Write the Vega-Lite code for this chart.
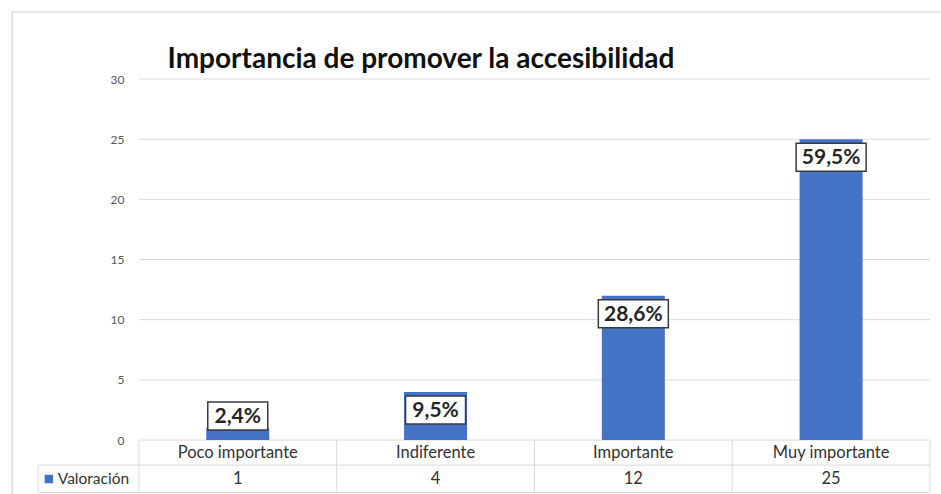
{
  "$schema": "https://vega.github.io/schema/vega-lite/v6.json",
  "width": 902,
  "height": 414,
  "autosize": {"type": "none"},
  "padding": {"left": 33, "top": 79, "right": 6, "bottom": 1},
  "background": "white",
  "config": {"view": {"stroke": null}, "font": "Lato"},
  "datasets": {
    "grid": [{"t": 0}, {"t": 5}, {"t": 10}, {"t": 15}, {"t": 20}, {"t": 25}, {"t": 30}]
  },
  "data": {
    "values": [
      {"categoria": "Poco importante", "valor": 1, "pct": "2,4%"},
      {"categoria": "Indiferente", "valor": 4, "pct": "9,5%"},
      {"categoria": "Importante", "valor": 12, "pct": "28,6%"},
      {"categoria": "Muy importante", "valor": 25, "pct": "59,5%"}
    ]
  },
  "transform": [
    {"window": [{"op": "row_number", "as": "n"}]},
    {"calculate": "datum.n - 0.5", "as": "xc"},
    {"calculate": "max(datum.valor, 3.5) - 1.5", "as": "ylab"}
  ],
  "resolve": {"scale": {"x": "shared", "y": "shared"}},
  "layer": [
    {
      "data": {"values": [{}]},
      "mark": {"type": "rect", "fill": null, "fillOpacity": 0, "stroke": "#dedede", "strokeWidth": 1.5, "clip": false},
      "encoding": {
        "x": {"datum": -0.64, "type": "quantitative", "scale": {"domain": [-0.51, 4], "nice": false, "zero": false}, "axis": null},
        "x2": {"datum": 4.1},
        "y": {"datum": 35.57, "type": "quantitative", "scale": {"domain": [-4.4, 30], "nice": false, "zero": false}},
        "y2": {"datum": -5}
      }
    },
    {
      "data": {"values": [{"titulo": "Importancia de promover la accesibilidad"}]},
      "mark": {"type": "text", "font": "Lato", "fontSize": 28, "fontWeight": "bold", "color": "#111111", "align": "left", "baseline": "middle"},
      "encoding": {
        "x": {"datum": 0.145, "type": "quantitative"},
        "y": {"datum": 31.55, "type": "quantitative"},
        "text": {"field": "titulo"}
      }
    },
    {
      "data": {"name": "grid"},
      "mark": {"type": "rule", "color": "#d9d9d9", "strokeWidth": 1},
      "encoding": {
        "x": {"datum": 0, "type": "quantitative"},
        "x2": {"datum": 4},
        "y": {"field": "t", "type": "quantitative",
          "axis": {"values": [0, 5, 10, 15, 20, 25, 30], "grid": false, "domain": false, "ticks": false, "offset": -102, "labelPadding": 11, "labelFontSize": 12, "labelColor": "#595959", "labelFont": "Lato", "title": null}}
      }
    },
    {
      "data": {"values": [{}]},
      "mark": {"type": "rule", "color": "#d9d9d9", "strokeWidth": 1},
      "encoding": {"x": {"datum": -0.51, "type": "quantitative"}, "x2": {"datum": 4}, "y": {"datum": -2.08, "type": "quantitative"}}
    },
    {
      "data": {"values": [{}]},
      "mark": {"type": "rule", "color": "#d9d9d9", "strokeWidth": 1},
      "encoding": {"x": {"datum": -0.51, "type": "quantitative"}, "x2": {"datum": 4}, "y": {"datum": -4.36, "type": "quantitative"}}
    },
    {
      "data": {"values": [{}]},
      "mark": {"type": "rule", "color": "#d9d9d9", "strokeWidth": 1},
      "encoding": {"x": {"datum": -0.51, "type": "quantitative"}, "y": {"datum": -2.08, "type": "quantitative"}, "y2": {"datum": -4.36}}
    },
    {
      "data": {"values": [{}]},
      "mark": {"type": "rule", "color": "#d9d9d9", "strokeWidth": 1},
      "encoding": {"x": {"datum": 0, "type": "quantitative"}, "y": {"datum": 0, "type": "quantitative"}, "y2": {"datum": -4.36}}
    },
    {
      "mark": {"type": "rule", "color": "#d9d9d9", "strokeWidth": 1},
      "encoding": {"x": {"field": "n", "type": "quantitative"}, "y": {"datum": 0, "type": "quantitative"}, "y2": {"datum": -4.36}}
    },
    {
      "mark": {"type": "bar", "orient": "vertical", "width": 63, "color": "#4472C4"},
      "encoding": {
        "x": {"field": "xc", "type": "quantitative"},
        "y": {"field": "valor", "type": "quantitative"},
        "y2": {"datum": 0}
      }
    },
    {
      "mark": {"type": "point", "filled": true, "fill": "white", "stroke": "#3a3a3a", "strokeWidth": 1.5, "opacity": 1, "fillOpacity": 1, "strokeOpacity": 1, "size": 4900},
      "encoding": {
        "x": {"field": "xc", "type": "quantitative"},
        "y": {"field": "ylab", "type": "quantitative"},
        "shape": {
          "condition": {"test": "length(datum.pct) < 5", "value": "M-0.857,-0.4H0.857V0.4H-0.857Z"},
          "value": "M-1,-0.4H1V0.4H-1Z"
        }
      }
    },
    {
      "mark": {"type": "text", "font": "Lato", "fontSize": 21, "fontWeight": "bold", "color": "#262626", "baseline": "middle", "align": "center", "dy": 1},
      "encoding": {
        "x": {"field": "xc", "type": "quantitative"},
        "y": {"field": "ylab", "type": "quantitative"},
        "text": {"field": "pct"}
      }
    },
    {
      "mark": {"type": "text", "font": "Lato", "fontSize": 16.5, "color": "#333333", "baseline": "middle", "align": "center"},
      "encoding": {
        "x": {"field": "xc", "type": "quantitative"},
        "y": {"datum": -1.04, "type": "quantitative"},
        "text": {"field": "categoria"}
      }
    },
    {
      "mark": {"type": "text", "font": "Lato", "fontSize": 16.5, "color": "#333333", "baseline": "middle", "align": "center"},
      "encoding": {
        "x": {"field": "xc", "type": "quantitative"},
        "y": {"datum": -3.24, "type": "quantitative"},
        "text": {"field": "valor", "type": "quantitative"}
      }
    },
    {
      "data": {"values": [{"serie": "Valoración"}]},
      "mark": {"type": "point", "shape": "square", "filled": true, "color": "#4472C4", "size": 72, "opacity": 1},
      "encoding": {"x": {"datum": -0.455, "type": "quantitative"}, "y": {"datum": -3.24, "type": "quantitative"}}
    },
    {
      "data": {"values": [{"serie": "Valoración"}]},
      "mark": {"type": "text", "font": "Lato", "fontSize": 15.5, "color": "#333333", "baseline": "middle", "align": "left"},
      "encoding": {"x": {"datum": -0.41, "type": "quantitative"}, "y": {"datum": -3.24, "type": "quantitative"}, "text": {"field": "serie"}}
    }
  ]
}
